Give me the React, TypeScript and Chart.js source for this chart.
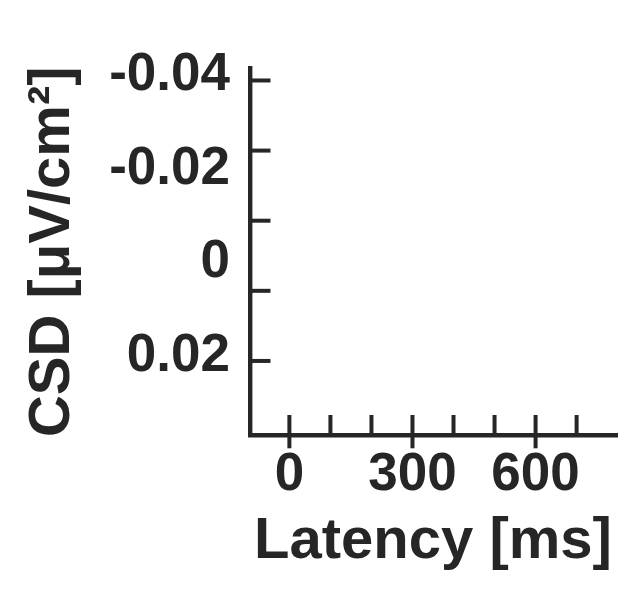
import React, { useEffect, useRef } from "react";
import { Chart, registerables } from "chart.js";

Chart.register(...registerables);

// ---- data (axes only; the reference has no plotted series) ----
const xLimits = [-96, 796];
const yLimits = [-0.04256, 0.03584];
const xTickMarks = [0, 100, 200, 300, 400, 500, 600, 700];
const xTickLabels = [0, 300, 600];
const yTickMarks = [-0.04, -0.025, -0.01, 0.005, 0.02];
const yTickLabels = [-0.04, -0.02, 0, 0.02];
const xTitle = "Latency [ms]";
const yTitle = "CSD [μV/cm²]";

const INK = "#262626";
const FONT = "'Liberation Sans', Arial, Helvetica, sans-serif";

const tickMarksPlugin = {
  id: "tickMarks",
  afterDraw(chart: any) {
    const ctx = chart.ctx;
    const xs = chart.scales.x;
    const ys = chart.scales.y;
    ctx.save();
    ctx.strokeStyle = INK;
    ctx.lineWidth = 4;
    ctx.lineCap = "butt";
    yTickMarks.forEach((v) => {
      const py = ys.getPixelForValue(v);
      ctx.beginPath();
      ctx.moveTo(ys.right, py);
      ctx.lineTo(ys.right + 20.5, py);
      ctx.stroke();
    });
    xTickMarks.forEach((v) => {
      const px = xs.getPixelForValue(v);
      const major = xTickLabels.includes(v);
      ctx.beginPath();
      ctx.moveTo(px, xs.top - 20);
      ctx.lineTo(px, xs.top + (major ? 13.3 : 0));
      ctx.stroke();
    });
    ctx.restore();
  },
};

export default function App() {
  const canvasRef = useRef<HTMLCanvasElement | null>(null);

  useEffect(() => {
    if (!canvasRef.current) return;
    const chart = new Chart(canvasRef.current, {
      type: "scatter",
      data: { datasets: [] },
      options: {
        responsive: false,
        animation: false,
        devicePixelRatio: 1,
        layout: { padding: { top: 68.5, right: 23, bottom: 0, left: 0 } },
        plugins: {
          legend: { display: false },
          tooltip: { enabled: false },
        },
        scales: {
          x: {
            type: "linear",
            position: "bottom",
            min: xLimits[0],
            max: xLimits[1],
            afterBuildTicks: (scale: any) => {
              scale.ticks = xTickLabels.map((v) => ({ value: v }));
            },
            afterFit: (scale: any) => {
              scale.height = 175;
            },
            grid: { display: false, drawTicks: false, lineWidth: 4 },
            border: { display: true, color: INK, width: 4.4 },
            ticks: {
              color: INK,
              padding: 8.5,
              font: { family: FONT, size: 53, weight: "bold" },
              maxRotation: 0,
              autoSkip: false,
              callback: (v: any) => String(v),
            },
            title: {
              display: true,
              text: xTitle,
              color: INK,
              padding: { top: 0, bottom: 33 },
              font: { family: FONT, size: 58, weight: "bold" },
            },
          },
          y: {
            type: "linear",
            position: "left",
            reverse: true,
            min: yLimits[0],
            max: yLimits[1],
            afterBuildTicks: (scale: any) => {
              scale.ticks = yTickLabels.map((v) => ({ value: v }));
            },
            afterFit: (scale: any) => {
              scale.width = 250;
            },
            grid: { display: false, drawTicks: false, lineWidth: 4 },
            border: { display: true, color: INK, width: 4.4 },
            ticks: {
              color: INK,
              padding: 20,
              labelOffset: -5,
              autoSkip: false,
              font: { family: FONT, size: 53, weight: "bold" },
              callback: (v: any) => (Number(v) === 0 ? "0" : Number(v).toFixed(2)),
            },
            title: {
              display: true,
              text: yTitle,
              color: INK,
              padding: { top: 18, bottom: 0 },
              font: { family: FONT, size: 58, weight: "bold" },
            },
          },
        },
      },
      plugins: [tickMarksPlugin],
    } as any);
    return () => chart.destroy();
  }, []);

  return (
    <div
      style={{
        position: "fixed",
        left: 0,
        top: 0,
        width: 639,
        height: 610,
        background: "#ffffff",
      }}
    >
      <canvas
        ref={canvasRef}
        width={639}
        height={610}
        style={{ display: "block", width: 639, height: 610 }}
      />
    </div>
  );
}
